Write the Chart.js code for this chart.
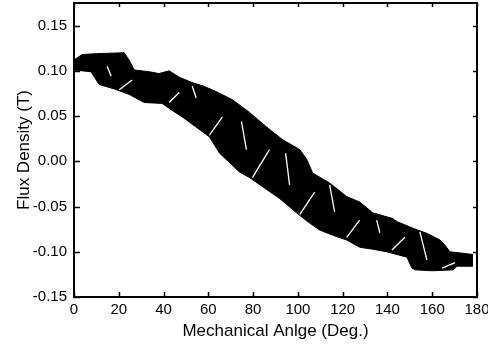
<!DOCTYPE html>
<html>
<head>
<meta charset="utf-8">
<script src="https://cdn.jsdelivr.net/npm/chart.js@4.4.0/dist/chart.umd.min.js"></script>
<style>
  html, body { margin: 0; padding: 0; background: #fff; }
  #wrap { width: 488px; height: 348px; }
</style>
</head>
<body>
<div id="wrap"><canvas id="fluxChart" width="488" height="348"></canvas></div>
<script>
// ticks
const angleTicks = [0, 20, 40, 60, 80, 100, 120, 140, 160, 180];
const fluxTicks = [-0.15, -0.10, -0.05, 0.00, 0.05, 0.10, 0.15];

// upper edge of the measured band
const upperAngle = [0, 3.6, 10, 22.4, 24.6, 26.9, 33.6, 38, 42.5, 47, 52.8, 58, 63.6, 70.8, 78.4, 86, 93.1, 100.8, 104, 106.6, 114.2, 121.8, 127.6, 133.5, 142, 144.6, 151.4, 158, 163.5, 165.5, 167.9, 178.2];
const upperFlux = [0.112, 0.118, 0.119, 0.120, 0.112, 0.101, 0.099, 0.097, 0.100, 0.093, 0.087, 0.083, 0.077, 0.068, 0.054, 0.038, 0.024, 0.013, 0.002, -0.013, -0.024, -0.039, -0.045, -0.057, -0.063, -0.067, -0.074, -0.080, -0.087, -0.092, -0.100, -0.103];

// lower edge of the measured band
const lowerAngle = [0, 7.6, 11.2, 18, 24.6, 31.3, 39.4, 44, 48.4, 55, 60.5, 65, 74, 78.4, 84.2, 91.8, 99.4, 104, 109.7, 116, 121.8, 127.6, 133, 139.7, 148.7, 150.9, 152.3, 160, 169.3, 171.1, 178.2];
const lowerFlux = [0.101, 0.099, 0.085, 0.080, 0.074, 0.065, 0.064, 0.056, 0.049, 0.037, 0.027, 0.009, -0.012, -0.018, -0.028, -0.041, -0.057, -0.066, -0.076, -0.082, -0.087, -0.095, -0.097, -0.100, -0.106, -0.118, -0.120, -0.121, -0.120, -0.116, -0.116];

// white gaps between traces: [angle1, flux1, angle2, flux2]
const gaps = [
  [14.8, 0.105, 16.6, 0.094],
  [20.2, 0.079, 26.0, 0.090],
  [42.5, 0.065, 47.0, 0.076],
  [52.8, 0.083, 54.6, 0.070],
  [60.5, 0.029, 66.3, 0.049],
  [74.8, 0.044, 77.0, 0.013],
  [79.7, -0.018, 87.3, 0.013],
  [94.5, 0.009, 96.3, -0.026],
  [100.8, -0.059, 107.5, -0.034],
  [114.2, -0.026, 116.4, -0.056],
  [121.8, -0.084, 127.6, -0.065],
  [135.2, -0.065, 136.6, -0.079],
  [142.0, -0.098, 147.8, -0.084],
  [154.5, -0.078, 157.6, -0.109],
  [164.4, -0.118, 170.2, -0.112]
];

const toPoints = (xs, ys) => xs.map((x, i) => ({ x: x, y: ys[i] }));

const datasets = [
  {
    data: toPoints(upperAngle, upperFlux),
    borderColor: '#000',
    backgroundColor: '#000',
    borderWidth: 1,
    pointRadius: 0,
    fill: '+1',
    order: 1
  },
  {
    data: toPoints(lowerAngle, lowerFlux),
    borderColor: '#000',
    borderWidth: 1,
    pointRadius: 0,
    fill: false,
    order: 1
  }
];
gaps.forEach(g => {
  datasets.push({
    data: [{ x: g[0], y: g[1] }, { x: g[2], y: g[3] }],
    borderColor: '#fff',
    borderWidth: 1.3,
    pointRadius: 0,
    fill: false,
    order: 0
  });
});

// frame + inward ticks on all four sides
const frameTicks = {
  id: 'frameTicks',
  afterDraw(chart) {
    const c = chart.ctx, a = chart.chartArea;
    const xs = chart.scales.x, ys = chart.scales.y;
    c.save();
    c.strokeStyle = '#000';
    c.lineWidth = 1.5;
    angleTicks.forEach(v => {
      const p = Math.round(xs.getPixelForValue(v)) + 0.5;
      c.beginPath();
      c.moveTo(p, a.bottom); c.lineTo(p, a.bottom - 5);
      c.moveTo(p, a.top); c.lineTo(p, a.top + 4);
      c.stroke();
    });
    fluxTicks.forEach(v => {
      const p = Math.round(ys.getPixelForValue(v)) + 0.5;
      c.beginPath();
      c.moveTo(a.left, p); c.lineTo(a.left + 6, p);
      c.moveTo(a.right, p); c.lineTo(a.right - 4, p);
      c.stroke();
    });
    c.lineWidth = 2;
    c.strokeRect(a.left, a.top, a.right - a.left, a.bottom - a.top);
    c.restore();
  }
};

const noPad = s => { s.paddingTop = 0; s.paddingBottom = 0; s.paddingLeft = 0; s.paddingRight = 0; };
const tickFont = { family: '"Liberation Sans", Arial, sans-serif', size: 15 };
const titleFont = { family: '"Liberation Sans", Arial, sans-serif', size: 17 };

new Chart(document.getElementById('fluxChart').getContext('2d'), {
  type: 'line',
  data: { datasets: datasets },
  options: {
    responsive: false,
    animation: false,
    layout: { padding: { top: 3, right: 11, left: 0, bottom: 0 } },
    plugins: { legend: { display: false }, tooltip: { enabled: false } },
    scales: {
      x: {
        type: 'linear',
        min: 0,
        max: 180,
        afterBuildTicks: s => { s.ticks = angleTicks.map(v => ({ value: v })); },
        afterFit: s => { s.height = 51; noPad(s); },
        grid: { display: false, drawTicks: false },
        border: { display: false },
        ticks: { color: '#000', font: tickFont, padding: 4, maxRotation: 0 },
        title: {
          display: true,
          text: 'Mechanical Anlge (Deg.)',
          color: '#000',
          font: titleFont,
          padding: { top: 2, bottom: 6 }
        }
      },
      y: {
        type: 'linear',
        min: -0.15,
        max: 0.175,
        afterBuildTicks: s => { s.ticks = fluxTicks.map(v => ({ value: v })); },
        afterFit: s => { s.width = 74; noPad(s); },
        grid: { display: false, drawTicks: false },
        border: { display: false },
        ticks: { color: '#000', font: tickFont, padding: 7, callback: v => v.toFixed(2) },
        title: {
          display: true,
          text: 'Flux Density (T)',
          color: '#000',
          font: titleFont,
          padding: { top: 14, bottom: 0 }
        }
      }
    }
  },
  plugins: [frameTicks]
});
</script>
</body>
</html>
